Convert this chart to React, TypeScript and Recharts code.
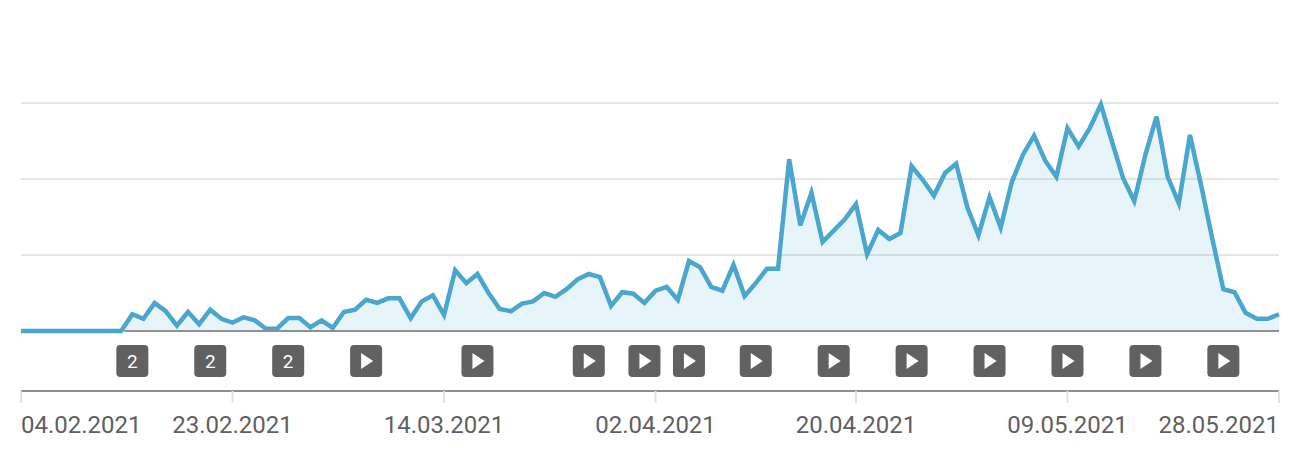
import { Area, AreaChart, CartesianGrid, ReferenceDot, ReferenceLine, XAxis, YAxis } from "recharts";

// one value per day, 04.02.2021 is day 0
const views = [
  0, 0, 0, 0, 0, 0, 0, 0, 0, 0, 22, 16, 37, 26, 7, 25, 9, 28, 16, 11,
  18, 14, 3, 3, 17, 17, 5, 14, 4, 25, 28, 41, 37, 43, 43, 17, 39, 47, 21, 80,
  63, 75, 50, 29, 26, 36, 39, 50, 45, 55, 68, 75, 71, 33, 51, 49, 37, 53, 58, 41,
  92, 84, 58, 53, 87, 46, 63, 82, 82, 226, 139, 182, 117, 132, 147, 167, 101, 133, 121, 129,
  217, 199, 178, 208, 220, 163, 126, 176, 136, 196, 232, 257, 224, 203, 267, 243, 267, 298, 249, 201,
  171, 232, 282, 203, 168, 258, 192, 122, 55, 51, 24, 16, 16, 22,
];

const tickDays = [0, 19, 38, 57, 75, 94, 113];
const tickLabels = ["04.02.2021", "23.02.2021", "14.03.2021", "02.04.2021", "20.04.2021", "09.05.2021", "28.05.2021"];

const gridValues = [100, 200, 300];

const markerDays = [10, 17, 24, 31, 41, 51, 56, 60, 66, 73, 80, 87, 94, 101, 108];
const markerCounts = [2, 2, 2, 1, 1, 1, 1, 1, 1, 1, 1, 1, 1, 1, 1];

const chartData = views.map((v, i) => ({ day: i, views: v }));

function DateTick(props: any) {
  const { x, y, payload, index } = props;
  const anchor = index === 0 ? "start" : index === tickDays.length - 1 ? "end" : "middle";
  return (
    <text x={x} y={y + 30} textAnchor={anchor} fontFamily="Roboto" fontSize={24} fill="#5f5f5f">
      {tickLabels[tickDays.indexOf(payload.value)]}
    </text>
  );
}

function Marker(props: any) {
  const { cx, cy, count } = props;
  return (
    <g>
      <rect x={cx - 16} y={cy - 16} width={32} height={32} rx={4} fill="#616161" />
      {count > 1 ? (
        <text x={cx} y={cy + 7} textAnchor="middle" fontFamily="Roboto" fontSize={19} fill="#ffffff">
          {count}
        </text>
      ) : (
        <path d={`M${cx - 5} ${cy - 8}L${cx + 7} ${cy}L${cx - 5} ${cy + 8}Z`} fill="#ffffff" />
      )}
    </g>
  );
}

export default function App() {
  return (
    <div style={{ position: "absolute", left: 0, top: 0 }}>
      <AreaChart width={1294} height={474} data={chartData} margin={{ top: 103, right: 15, bottom: 0, left: 21 }}>
        <CartesianGrid vertical={false} horizontalValues={gridValues} stroke="#e6e6e6" strokeWidth={2} />
        <XAxis
          dataKey="day"
          type="number"
          domain={[0, 113]}
          ticks={tickDays}
          interval={0}
          height={83}
          tickSize={12}
          tickMargin={0}
          tick={<DateTick />}
          axisLine={{ stroke: "#8f8f8f", strokeWidth: 2 }}
          tickLine={{ stroke: "#e2e2e2", strokeWidth: 2 }}
        />
        <YAxis hide domain={[-78.95, 300]} />
        {/* grey zero line only where the series is off zero, the flat start stays blue */}
        <ReferenceLine
          segment={[
            { x: 9.3, y: 0 },
            { x: 113, y: 0 },
          ]}
          stroke="#8f8f8f"
          strokeWidth={2}
        />
        <Area
          type="linear"
          dataKey="views"
          stroke="#4aa6cc"
          strokeWidth={4.5}
          fill="#40b0d4"
          fillOpacity={0.125}
          dot={false}
          activeDot={false}
          isAnimationActive={false}
        />
        {markerDays.map((d, i) => (
          <ReferenceDot key={d} x={d} y={-39.5} shape={<Marker count={markerCounts[i]} />} />
        ))}
      </AreaChart>
    </div>
  );
}
